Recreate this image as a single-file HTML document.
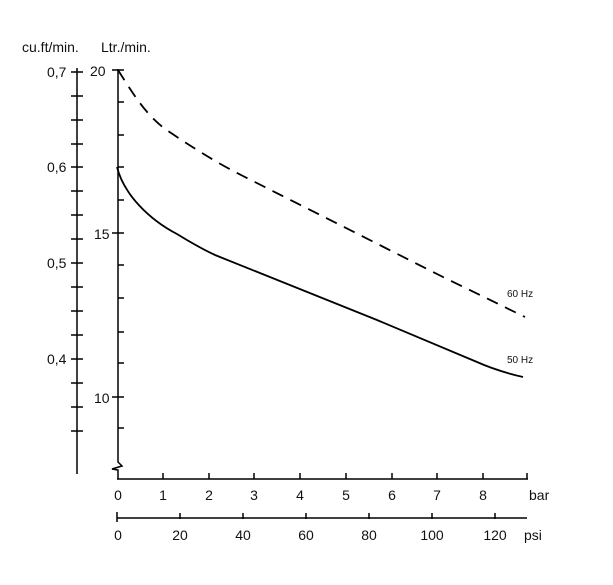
<!DOCTYPE html>
<html><head><style>body{margin:0;background:#fff}svg{display:block}text{font-family:"Liberation Sans",sans-serif;fill:#111}</style></head>
<body>
<svg width="613" height="585" viewBox="0 0 613 585" xmlns="http://www.w3.org/2000/svg">
<g stroke="#000" stroke-width="1.5" fill="none">
<line x1="77" y1="68" x2="77" y2="474"/>
<path d="M71 72h12M71 96h12M71 120h12M71 144h12M71 167h12M71 191h12M71 215h12M71 239h12M71 263h12M71 287h12M71 311h12M71 335h12M71 359h12M71 383h12M71 407h12M71 431h12"/>
<path d="M118 69V462l4 4-10 3 6 1v9"/>
<path d="M118 70h6M118 102h6M118 135h6M118 167h6M118 200h6M112 233h12M118 265h6M118 298h6M118 332h6M118 363h6M112 397h12M118 428h6M112 70h6"/>
<line x1="117" y1="479" x2="528" y2="479"/>
<path d="M163 473v6M209 473v6M254 473v6M300 473v6M346 473v6M392 473v6M437 473v6M483 473v6M527 473v6"/>
<line x1="117" y1="518" x2="527" y2="518"/>
<path d="M117 512v10M180 513v6M243 513v6M306 513v6M369 513v6M432 513v6M495 513v6"/>
<path d="M118 70 C132 92 146 116 168 131 C192 147 215 162 243 176 L443 277 L525 317" stroke-dasharray="12,8" stroke-width="1.8"/>
<path d="M117 167 C124 195 150 220 177 234 C190 242 200 248 215 255 L377 320 L477 362 C495 370 510 374 523 377" stroke-width="1.8"/>
</g>
<g font-size="14">
<text x="22" y="52">cu.ft/min.</text>
<text x="101" y="52">Ltr./min.</text>
<text x="47" y="77">0,7</text>
<text x="47" y="172">0,6</text>
<text x="47" y="268">0,5</text>
<text x="47" y="364">0,4</text>
<text x="90" y="76">20</text>
<text x="94" y="239">15</text>
<text x="94" y="403">10</text>
<g text-anchor="middle">
<text x="118" y="500">0</text><text x="163" y="500">1</text><text x="209" y="500">2</text><text x="254" y="500">3</text><text x="300" y="500">4</text><text x="346" y="500">5</text><text x="392" y="500">6</text><text x="437" y="500">7</text><text x="483" y="500">8</text>
<text x="118" y="540">0</text><text x="180" y="540">20</text><text x="243" y="540">40</text><text x="306" y="540">60</text><text x="369" y="540">80</text><text x="432" y="540">100</text><text x="495" y="540">120</text>
</g>
<text x="529" y="500">bar</text>
<text x="524" y="540">psi</text>
</g>
<text x="507" y="297" font-size="10">60 Hz</text>
<text x="507" y="363" font-size="10">50 Hz</text>
</svg>
</body></html>
